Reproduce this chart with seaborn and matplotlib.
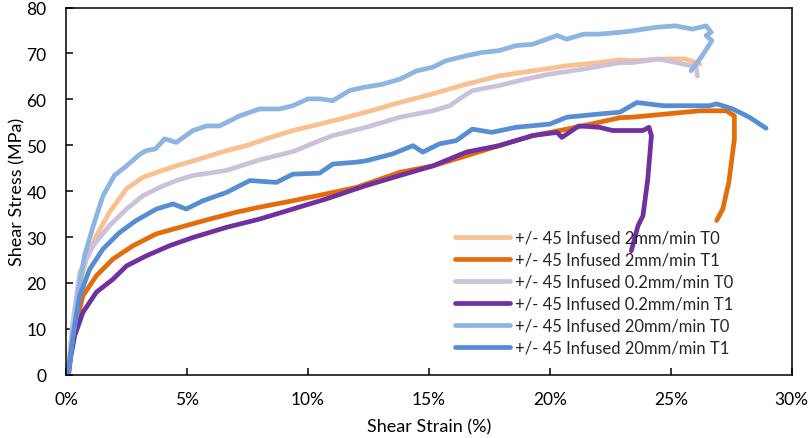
import matplotlib
matplotlib.use("Agg")
import matplotlib.pyplot as plt
import matplotlib.ticker as mticker
import seaborn as sns

# --- dados (deformação em %, tensão em MPa) ---
LABELS = [
    "+/- 45 Infused 2mm/min T0",
    "+/- 45 Infused 2mm/min T1",
    "+/- 45 Infused 0.2mm/min T0",
    "+/- 45 Infused 0.2mm/min T1",
    "+/- 45 Infused 20mm/min T0",
    "+/- 45 Infused 20mm/min T1",
]
CORES = ["#FAC090", "#E46C0A", "#CCC1DA", "#7030A0", "#8EB4E3", "#558ED5"]

strain_2_t0 = [0.08, 0.2, 0.36, 0.6, 0.84, 1.26, 1.8, 2.5, 3.18, 3.87, 4.56, 5.52, 6.63, 7.45, 8.28,
               9.38, 10.48, 11.03, 12.4, 13.8, 15.17, 16.55, 17.9, 19.3, 20.7, 22.05, 22.9, 23.4,
               24.8, 25.6, 26.2]
stress_2_t0 = [0, 7, 14.3, 20, 25.2, 30.3, 35.4, 40.5, 43, 44.3, 45.5, 47, 48.8, 49.9, 51.4,
               53.2, 54.6, 55.3, 57.2, 59.3, 61.2, 63.3, 65.1, 66.2, 67.3, 68, 68.6, 68.4,
               68.8, 68.8, 67.7]

strain_2_t1 = [0.1, 0.2, 0.36, 0.7, 1.26, 1.94, 2.77, 3.74, 4.97, 5.94, 7.04, 8.0, 9.38, 10.76, 12.0,
               13.8, 15.17, 16.55, 17.9, 19.3, 20.7, 22.05, 22.9, 23.4, 24.8, 26.2, 27.3, 27.63,
               27.63, 27.4, 27.15, 26.9]
stress_2_t1 = [0, 5, 10, 17.2, 21.6, 25.2, 28.1, 30.7, 32.5, 33.9, 35.4, 36.5, 37.9, 39.4, 40.8,
               44.1, 45.5, 47.7, 49.9, 52.1, 53.5, 55, 56, 56.1, 56.8, 57.5, 57.5, 56.4,
               51.3, 41.9, 36.1, 33.6]

strain_02_t0 = [0.08, 0.25, 0.57, 1.12, 1.8, 2.5, 3.18, 3.87, 4.56, 5.25, 6.63, 8.0, 9.38, 10.48,
                11.03, 12.4, 13.8, 15.17, 15.86, 16.27, 16.8, 17.9, 19.0, 20.0, 21.4, 22.9, 23.4,
                24.5, 25.5, 26.05, 26.1]
stress_02_t0 = [0, 10, 22.3, 28.1, 32.5, 36.1, 39, 40.8, 42.3, 43.4, 44.5, 46.8, 48.6, 51,
                52.1, 53.9, 56.1, 57.5, 58.6, 60.1, 61.9, 63, 64.4, 65.5, 66.6, 68, 68,
                68.8, 67.7, 67, 65.1]

strain_02_t1 = [0.1, 0.2, 0.36, 0.7, 1.26, 1.94, 2.5, 3.32, 4.28, 5.25, 6.63, 8.0, 9.38, 10.76, 12.0,
                12.4, 13.8, 15.17, 16.55, 17.9, 19.3, 20.3, 20.5, 21.2, 22.05, 22.6, 23.85, 24.1,
                24.2, 24.05, 23.85, 23.65, 23.37]
stress_02_t1 = [0, 4, 8.5, 13.6, 18, 20.8, 23.7, 25.9, 28.1, 29.9, 32.1, 33.9, 36.1, 38.3, 40.5,
                41.2, 43.4, 45.5, 48.5, 49.9, 52.1, 52.8, 51.7, 54.2, 53.9, 53.2, 53.2, 53.9,
                52.1, 42.6, 34.6, 32.5, 27]

strain_20_t0 = [0.08, 0.29, 0.57, 0.77, 1.13, 1.53, 2.0, 2.5, 3.05, 3.3, 3.7, 4.08, 4.56, 5.25, 5.8,
                6.35, 7.18, 8.0, 8.83, 9.38, 10.0, 10.5, 11.03, 11.72, 12.3, 13.1, 13.8, 14.5,
                15.17, 15.7, 16.55, 17.2, 17.9, 18.6, 19.3, 20.3, 20.7, 21.4, 22.05, 22.9, 23.4,
                24.4, 25.2, 25.9, 26.46, 26.67, 26.46, 26.7, 26.3, 25.84]
stress_20_t0 = [0, 8.5, 20, 26, 32.5, 39, 43.4, 45.5, 48, 48.8, 49.2, 51.4, 50.6, 53.2, 54.2,
                54.2, 56.4, 57.9, 57.9, 58.6, 60.1, 60.1, 59.7, 61.9, 62.6, 63.3, 64.4, 66.2,
                67, 68.4, 69.5, 70.2, 70.6, 71.7, 72, 73.9, 73.1, 74.2, 74.2, 74.6, 74.9,
                75.7, 76, 75.3, 76, 74.6, 73.9, 72.8, 69.5, 66.2]

strain_20_t1 = [0.08, 0.29, 0.57, 0.98, 1.53, 2.22, 2.9, 3.74, 4.42, 4.97, 5.66, 6.63, 7.6, 8.7, 9.38,
                10.48, 11.03, 12.0, 12.4, 13.5, 14.34, 14.75, 15.44, 16.13, 16.8, 17.6, 18.6, 20.0,
                20.7, 22.05, 22.9, 23.6, 24.7, 26.6, 26.9, 27.56, 28.25, 28.94]
stress_20_t1 = [0, 8.5, 17.2, 23, 27.4, 31, 33.6, 36.1, 37.2, 36.1, 37.9, 39.7, 42.3, 41.9, 43.7,
                43.9, 45.9, 46.3, 46.6, 48.1, 49.9, 48.5, 50.3, 51, 53.5, 52.8, 53.9, 54.6,
                56.1, 56.8, 57.2, 59.3, 58.6, 58.6, 59, 57.9, 56.1, 53.7]

SERIES = [
    (strain_2_t0, stress_2_t0),
    (strain_2_t1, stress_2_t1),
    (strain_02_t0, stress_02_t0),
    (strain_02_t1, stress_02_t1),
    (strain_20_t0, stress_20_t0),
    (strain_20_t1, stress_20_t1),
]

sns.set_theme(style="white")
plt.rcParams['font.family'] = ['Lato', 'DejaVu Sans']

fig = plt.figure(figsize=(8.12, 4.39), dpi=100)
ax = fig.add_axes([0.0813, 0.1442, 0.8937, 0.8364])

for (x, y), cor, nome in zip(SERIES, CORES, LABELS):
    sns.lineplot(x=x, y=y, ax=ax, color=cor, lw=3.4, sort=False, estimator=None,
                 label=nome, solid_capstyle='round', solid_joinstyle='round')

ax.set_xlim(0, 30)
ax.set_ylim(0, 80)
ax.xaxis.set_major_locator(mticker.MultipleLocator(5))
ax.yaxis.set_major_locator(mticker.MultipleLocator(10))
ax.xaxis.set_major_formatter(mticker.FuncFormatter(lambda v, p: f"{v:.0f}%"))
ax.tick_params(axis='both', direction='in', length=5, width=1.1, labelsize=12.5,
               colors='black', bottom=True, left=True)
ax.tick_params(axis='x', pad=12)
ax.tick_params(axis='y', pad=14)
for sp in ax.spines.values():
    sp.set_color('black')
    sp.set_linewidth(1.1)

ax.set_xlabel("Shear Strain (%)", fontsize=13, color='black', labelpad=8)
ax.set_ylabel("Shear Stress (MPa)", fontsize=13, color='black', labelpad=1)

ax.legend(loc='lower right', bbox_to_anchor=(0.935, 0.02), frameon=False, fontsize=12,
          handlelength=3.3, handletextpad=0.3, labelspacing=0.36, borderpad=0.2)

fig.savefig("out.png", dpi=100)
